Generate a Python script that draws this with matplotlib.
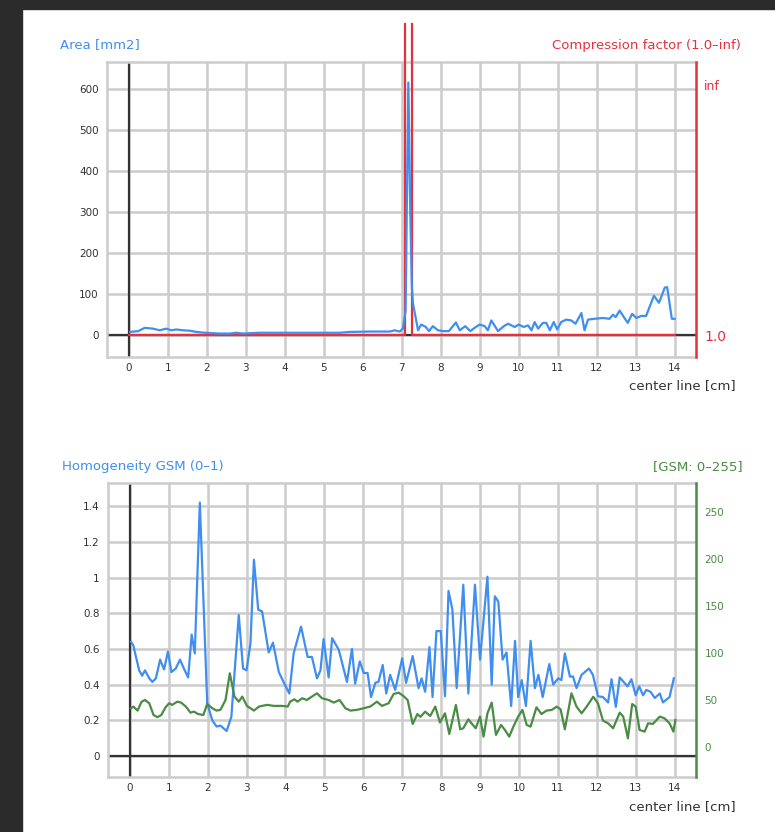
import matplotlib.pyplot as plt

# Area along the center line
area_x = [0.03, 0.24, 0.41, 0.62, 0.79, 0.96, 1.09, 1.22, 1.39, 1.56, 1.74, 1.95, 2.33, 2.59,
          2.76, 2.93, 3.1, 3.36, 3.79, 4.64, 5.41, 5.67, 6.18, 6.7, 6.82, 6.95, 7.03, 7.1,
          7.17, 7.22, 7.26, 7.29, 7.42, 7.5, 7.62, 7.7, 7.8, 7.93, 8.06, 8.21, 8.39, 8.49,
          8.63, 8.76, 8.87, 9.0, 9.13, 9.21, 9.3, 9.47, 9.62, 9.73, 9.9, 10.0, 10.13, 10.24,
          10.33, 10.41, 10.5, 10.62, 10.71, 10.8, 10.9, 10.99, 11.09, 11.22, 11.35, 11.46,
          11.61, 11.69, 11.78, 11.95, 12.16, 12.33, 12.42, 12.49, 12.59, 12.7, 12.8, 12.91,
          13.02, 13.15, 13.27, 13.47, 13.6, 13.75, 13.81, 13.93, 14.0]
area_y = [8, 10, 18, 16, 12, 16, 12, 14, 12, 11, 8, 6, 4, 4,
          6, 4, 5, 6, 6, 6, 6, 8, 9, 9, 12, 9, 16, 60,
          615, 300, 120, 77, 12, 26, 20, 10, 22, 12, 10, 10, 31, 12,
          22, 10, 18, 26, 22, 12, 36, 10, 22, 28, 20, 26, 20, 24,
          12, 32, 16, 30, 30, 12, 32, 14, 32, 38, 36, 28,
          54, 12, 38, 40, 42, 40, 50, 44, 60, 44, 30, 52,
          42, 47, 47, 96, 79, 116, 117, 40, 40]

# Compression factor: 1.0 outside the compressed zone, inf inside it
comp_edges = [7.09, 7.26]
comp_inf_tick = 610

# Homogeneity (0-1)
hom_x = [0.03, 0.09, 0.24, 0.32, 0.39, 0.5, 0.58, 0.67, 0.78, 0.88, 0.98, 1.07, 1.18, 1.29,
         1.39, 1.5, 1.59, 1.67, 1.8, 1.99, 2.12, 2.23, 2.33, 2.49, 2.61, 2.8, 2.91, 3.0,
         3.1, 3.19, 3.3, 3.4, 3.57, 3.68, 3.83, 3.96, 4.1, 4.21, 4.4, 4.57, 4.68, 4.81,
         4.9, 4.98, 5.11, 5.2, 5.37, 5.58, 5.71, 5.79, 5.91, 6.01, 6.11, 6.2, 6.31, 6.39,
         6.5, 6.59, 6.69, 6.82, 7.0, 7.1, 7.27, 7.42, 7.5, 7.59, 7.7, 7.78, 7.88, 7.99,
         8.1, 8.19, 8.29, 8.4, 8.57, 8.7, 8.87, 9.0, 9.19, 9.3, 9.38, 9.47, 9.58, 9.68,
         9.8, 9.9, 9.98, 10.07, 10.18, 10.3, 10.41, 10.5, 10.61, 10.78, 10.88, 11.01,
         11.09, 11.18, 11.31, 11.39, 11.48, 11.61, 11.8, 11.9, 12.03, 12.16, 12.29, 12.38,
         12.49, 12.59, 12.79, 12.89, 13.0, 13.09, 13.19, 13.27, 13.38, 13.49, 13.62, 13.7,
         13.87, 13.98]
hom_y = [0.64, 0.62, 0.48, 0.45, 0.48, 0.435, 0.415, 0.435, 0.54, 0.485, 0.585, 0.47, 0.49, 0.54,
         0.49, 0.44, 0.68, 0.575, 1.42, 0.295, 0.2, 0.165, 0.17, 0.14, 0.22, 0.79, 0.49, 0.48,
         0.63, 1.1, 0.82, 0.81, 0.58, 0.635, 0.47, 0.41, 0.35, 0.575, 0.725, 0.555, 0.555, 0.435,
         0.48, 0.655, 0.44, 0.66, 0.595, 0.415, 0.6, 0.405, 0.53, 0.465, 0.465, 0.33, 0.41, 0.415,
         0.51, 0.35, 0.455, 0.37, 0.547, 0.41, 0.56, 0.38, 0.435, 0.36, 0.61, 0.33, 0.7, 0.7,
         0.335, 0.925, 0.82, 0.38, 0.96, 0.35, 0.96, 0.54, 1.005, 0.4, 0.895, 0.865, 0.54, 0.58,
         0.28, 0.645, 0.33, 0.425, 0.28, 0.645, 0.38, 0.455, 0.33, 0.515, 0.4, 0.435,
         0.425, 0.575, 0.445, 0.445, 0.38, 0.455, 0.49, 0.455, 0.335, 0.33, 0.3, 0.43,
         0.275, 0.44, 0.39, 0.43, 0.34, 0.39, 0.34, 0.37, 0.36, 0.325, 0.35, 0.3,
         0.33, 0.435]

# GSM (0-255)
gsm_x = [0.03, 0.09, 0.2, 0.3, 0.39, 0.5, 0.61, 0.71, 0.81, 0.92, 1.01, 1.09, 1.22, 1.32,
         1.44, 1.56, 1.65, 1.75, 1.89, 1.99, 2.12, 2.23, 2.33, 2.46, 2.57, 2.69, 2.8, 2.89,
         3.01, 3.19, 3.32, 3.53, 3.7, 3.91, 4.06, 4.12, 4.23, 4.31, 4.43, 4.55, 4.68, 4.81,
         4.94, 5.11, 5.24, 5.39, 5.54, 5.67, 5.84, 6.01, 6.18, 6.35, 6.48, 6.65, 6.78, 6.91,
         7.03, 7.14, 7.27, 7.39, 7.47, 7.59, 7.72, 7.85, 7.97, 8.1, 8.21, 8.38, 8.49, 8.57,
         8.7, 8.78, 8.89, 9.0, 9.09, 9.19, 9.3, 9.41, 9.54, 9.64, 9.75, 9.85, 9.98, 10.09,
         10.2, 10.3, 10.45, 10.58, 10.71, 10.84, 10.97, 11.07, 11.18, 11.35, 11.48, 11.61,
         11.74, 11.91, 12.03, 12.16, 12.29, 12.42, 12.59, 12.68, 12.8, 12.91, 13.0, 13.1,
         13.23, 13.32, 13.44, 13.62, 13.74, 13.87, 13.97, 14.02]
gsm_y = [41, 43, 38.7, 48, 50, 46.5, 34, 31.7, 34, 42.3, 46.5, 44.8, 48.2, 47.2,
         43, 36.5, 37.6, 35.1, 34, 45.8, 41.2, 38.7, 39.5, 50, 78.4, 53.6, 48.2, 53.6,
         43.7, 38.7, 43, 44.8, 43.7, 43.7, 43, 48.2, 50.7, 48.2, 51.8, 50, 53.6, 57.1,
         51.8, 50, 47.2, 50, 41.2, 38.7, 39.5, 41.2, 43, 48.2, 43.7, 46.5, 56.4, 57.8,
         54.3, 50, 24.5, 35, 32, 37.6, 33, 43, 26, 35.8, 13.8, 44.7, 18.8, 19.9,
         29.4, 25.2, 19.9, 32.3, 11, 35.8, 47.2, 12.8, 23.4, 18.1, 11, 20.9, 32.3, 39.4,
         23.4, 21.6, 42.2, 35.1, 38.7, 39.4, 42.9, 40.1, 18.8, 57.1, 42.9, 35.8,
         42.9, 53.5, 46.5, 28, 25.2, 19.9, 36.5, 32.3, 9.2, 45.7, 42.9, 18.1,
         16.3, 25.2, 24.5, 32.3, 30.5, 25.2, 16.3, 28.7]

x_ticks = list(range(15))
area_ticks = [0, 100, 200, 300, 400, 500, 600]
hom_ticks = [0, 0.2, 0.4, 0.6, 0.8, 1.0, 1.2, 1.4]
hom_labels = ['0', '0.2', '0.4', '0.6', '0.8', '1', '1.2', '1.4']
gsm_ticks = [0, 50, 100, 150, 200, 250]

BLUE = '#3f8ef0'
RED = '#e8303c'
GREEN = '#4a8c44'
GRID = '#cccccc'
DARK = '#333333'

plt.rcParams['font.family'] = ['DejaVu Sans']

fig = plt.figure(figsize=(7.75, 8.32), dpi=100)
fig.patch.set_facecolor('white')
# dark window frame on the left and top
fig.patches.append(plt.Rectangle((0, 0), 22 / 775, 1, transform=fig.transFigure,
                                 color='#2b2b2b', zorder=0))
fig.patches.append(plt.Rectangle((0, 1 - 9 / 832), 1, 9 / 832, transform=fig.transFigure,
                                 color='#2b2b2b', zorder=0))


def style_axes(ax):
    ax.set_xlim(-0.56, 14.55)
    ax.set_xticks(x_ticks)
    ax.grid(True, color=GRID, lw=1.8)
    ax.set_axisbelow(True)
    for side in ['left', 'top', 'bottom']:
        ax.spines[side].set_color(GRID)
        ax.spines[side].set_linewidth(1.8)
    ax.spines['right'].set_visible(False)
    ax.tick_params(length=0, labelsize=7.5, colors=DARK)
    ax.tick_params(axis='x', pad=4)
    ax.tick_params(axis='y', pad=6)
    ax.axhline(0, color=DARK, lw=1.6, zorder=2)
    ax.axvline(0, color=DARK, lw=1.6, zorder=2)


def style_right(axr, color):
    for side in ['left', 'top', 'bottom']:
        axr.spines[side].set_visible(False)
    axr.spines['right'].set_color(color)
    axr.spines['right'].set_linewidth(1.8)
    axr.tick_params(length=0, colors=color, labelsize=7.5, pad=6)


# ---- top: area and compression factor
ax1 = fig.add_axes([107 / 775, 1 - 357 / 832, (696 - 107) / 775, (357 - 62) / 832])
style_axes(ax1)
ax1.set_ylim(-53, 665)
ax1.set_yticks(area_ticks)
ax1.plot([0, comp_edges[0], comp_edges[0]], [0, 0, 757], color=RED, lw=1.6, zorder=3,
         clip_on=False)
ax1.plot([comp_edges[1], comp_edges[1], 14], [757, 0, 0], color=RED, lw=1.6, zorder=3,
         clip_on=False)
ax1.plot(area_x, area_y, color=BLUE, lw=1.6, zorder=4)

ax1r = ax1.twinx()
ax1r.set_ylim(ax1.get_ylim())
ax1r.set_yticks([0, comp_inf_tick], ['1.0', 'inf'])
style_right(ax1r, RED)
ax1r.get_yticklabels()[0].set_fontsize(10)
ax1r.get_yticklabels()[1].set_fontsize(9)

fig.text(60 / 775, 1 - 45 / 832, 'Area [mm2]', color=BLUE, fontsize=9.5, va='center')
fig.text(741 / 775, 1 - 45 / 832, 'Compression factor (1.0\u2013inf)', color=RED,
         fontsize=9.5, va='center', ha='right')
fig.text(736 / 775, 1 - 386 / 832, 'center line [cm]', color=DARK, fontsize=9.5,
         va='center', ha='right')

# ---- bottom: homogeneity (left scale) and GSM (right scale)
ax2 = fig.add_axes([108 / 775, 1 - 777 / 832, (696 - 108) / 775, (777 - 483) / 832])
style_axes(ax2)
ax2.set_ylim(-0.118, 1.53)
ax2.set_yticks(hom_ticks, hom_labels)

ax2r = ax2.twinx()
ax2r.set_ylim(-32, 281)
ax2r.set_yticks(gsm_ticks)
style_right(ax2r, GREEN)
ax2r.plot(gsm_x, gsm_y, color=GREEN, lw=1.6, zorder=3)
ax2.plot(hom_x, hom_y, color=BLUE, lw=1.6, zorder=4)

fig.text(62 / 775, 1 - 467 / 832, 'Homogeneity GSM (0\u20131)', color=BLUE, fontsize=9.5,
         va='center')
fig.text(743 / 775, 1 - 467 / 832, '[GSM: 0\u2013255]', color=GREEN, fontsize=9.5,
         va='center', ha='right')
fig.text(736 / 775, 1 - 807 / 832, 'center line [cm]', color=DARK, fontsize=9.5,
         va='center', ha='right')

fig.savefig('out.png', dpi=100)
